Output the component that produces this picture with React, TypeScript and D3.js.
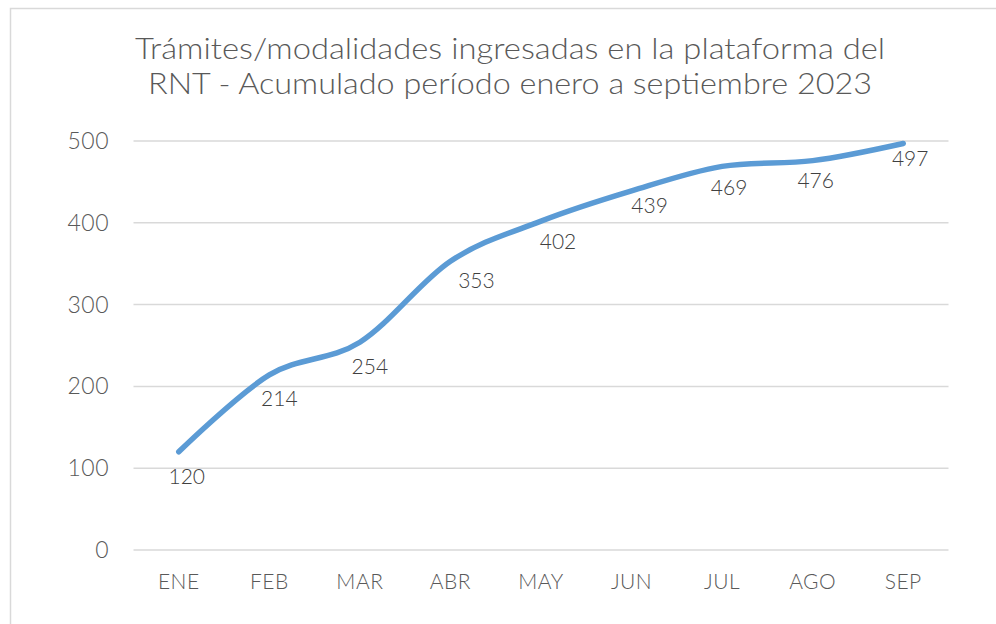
import React, { useEffect, useRef } from 'react'
import * as d3 from 'd3'

const months = ['ENE', 'FEB', 'MAR', 'ABR', 'MAY', 'JUN', 'JUL', 'AGO', 'SEP']
const values = [120, 214, 254, 353, 402, 439, 469, 476, 497]
const yTicks = [0, 100, 200, 300, 400, 500]
const titleLines = [
  'Trámites/modalidades ingresadas en la plataforma del',
  'RNT - Acumulado período enero a septiembre 2023',
]
const titleWidths = [750, 724]
// small label nudges (px) so labels sit like in the original
const labelDx = [8, 10, 10, 26, 17, 18, 7, 3, 7]
const labelDy = [24, 23, 24, 19, 20, 14, 21, 19, 15]

export default function App() {
  const svgRef = useRef<SVGSVGElement>(null)

  useEffect(() => {
    const width = 996
    const height = 624
    const svg = d3.select(svgRef.current)
    svg.selectAll('*').remove()
    svg.attr('width', width).attr('height', height).style('background', '#fff')

    // outer frame
    svg.append('rect')
      .attr('x', 10.5).attr('y', 8.5)
      .attr('width', 1000).attr('height', 700)
      .attr('fill', '#fff').attr('stroke', '#d9d9d9').attr('stroke-width', 1.5)

    const xScale = d3.scaleBand().domain(months).range([133.5, 948.5])
    const yScale = d3.scaleLinear().domain([0, 500]).range([550, 141])
    const cx = (m: string) => (xScale(m) as number) + xScale.bandwidth() / 2

    // title, two lines stretched to the wide look of the original font
    svg.append('g')
      .selectAll('text')
      .data(titleLines)
      .join('text')
      .attr('x', (d, i) => 510 - titleWidths[i] / 2)
      .attr('y', (d, i) => 59 + i * 35)
      .attr('textLength', (d, i) => titleWidths[i])
      .attr('lengthAdjust', 'spacingAndGlyphs')
      .style('font-family', 'Lato, sans-serif')
      .style('font-weight', 300)
      .style('font-size', '29px')
      .style('fill', '#595959')
      .text(d => d)

    // gridlines
    svg.append('g')
      .selectAll('line')
      .data(yTicks)
      .join('line')
      .attr('x1', 133.5).attr('x2', 948.5)
      .attr('y1', d => yScale(d)).attr('y2', d => yScale(d))
      .attr('stroke', '#d9d9d9').attr('stroke-width', 1.5)

    // y labels
    svg.append('g')
      .selectAll('text')
      .data(yTicks)
      .join('text')
      .attr('x', 109).attr('y', d => yScale(d) + 8)
      .attr('text-anchor', 'end')
      .style('font-family', 'Lato, sans-serif')
      .style('font-weight', 300)
      .style('font-size', '23px')
      .style('letter-spacing', '0.5px')
      .style('fill', '#595959')
      .text(d => d)

    // x labels
    svg.append('g')
      .selectAll('text')
      .data(months)
      .join('text')
      .attr('x', d => cx(d)).attr('y', 589)
      .attr('text-anchor', 'middle')
      .style('font-family', 'Lato, sans-serif')
      .style('font-weight', 300)
      .style('font-size', '21px')
      .style('letter-spacing', '0.5px')
      .style('fill', '#595959')
      .text(d => d)

    const line = d3.line<number>()
      .x((d, i) => cx(months[i]))
      .y(d => yScale(d))
      .curve(d3.curveCatmullRom.alpha(0))

    svg.append('path')
      .datum(values)
      .attr('d', line)
      .attr('fill', 'none')
      .attr('stroke', '#5b9bd5')
      .attr('stroke-width', 5.5)
      .attr('stroke-linecap', 'round')

    // data labels
    svg.append('g')
      .selectAll('text')
      .data(values)
      .join('text')
      .attr('x', (d, i) => cx(months[i]) + labelDx[i])
      .attr('y', (d, i) => yScale(d) + labelDy[i] + 8)
      .attr('text-anchor', 'middle')
      .style('font-family', 'Lato, sans-serif')
      .style('font-weight', 300)
      .style('font-size', '21px')
      .style('fill', '#404040')
      .text(d => d)
  }, [])

  return <svg ref={svgRef} style={{ position: 'absolute', left: 0, top: 0 }}></svg>
}
